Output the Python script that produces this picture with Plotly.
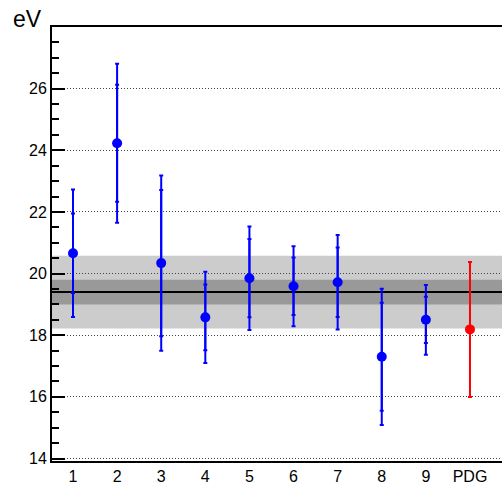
import plotly.graph_objects as go

# ---- data ----
positions = [1, 2, 3, 4, 5, 6, 7, 8, 9]
tick_vals = [1, 2, 3, 4, 5, 6, 7, 8, 9, 10]
tick_text = ["1", "2", "3", "4", "5", "6", "7", "8", "9", "PDG"]
y_tick_vals = [14, 16, 18, 20, 22, 24, 26]

values = [20.66, 24.23, 20.34, 18.58, 19.85, 19.59, 19.72, 17.30, 18.50]
err_stat = [1.29, 1.90, 2.37, 1.07, 1.27, 0.93, 1.13, 1.75, 0.75]
err_tot = [2.07, 2.58, 2.84, 1.48, 1.68, 1.30, 1.53, 2.21, 1.13]

pdg_pos = [10]
pdg_value = [18.19]
pdg_err = [2.19]

band_mean = 19.40
band_stat = 0.40
band_tot = 1.18

y_range = [13.92, 28.0]
x_range = [0.524, 10.726]

BLUE = "#0000ff"
RED = "#ff0000"
FONT = "Liberation Sans, Arial, Helvetica, sans-serif"

fig = go.Figure()

# total uncertainties
fig.add_trace(go.Scatter(
    x=positions, y=values, mode="markers",
    marker=dict(size=10, color=BLUE, opacity=0),
    error_y=dict(type="data", array=err_tot, arrayminus=err_tot,
                 color=BLUE, thickness=2, width=2),
    showlegend=False, hoverinfo="skip"))
# statistical uncertainties + points
fig.add_trace(go.Scatter(
    x=positions, y=values, mode="markers",
    marker=dict(size=10, color=BLUE),
    error_y=dict(type="data", array=err_stat, arrayminus=err_stat,
                 color=BLUE, thickness=2, width=2),
    showlegend=False))
# PDG
fig.add_trace(go.Scatter(
    x=pdg_pos, y=pdg_value, mode="markers",
    marker=dict(size=10, color=RED),
    error_y=dict(type="data", array=pdg_err, arrayminus=pdg_err,
                 color=RED, thickness=2, width=2),
    showlegend=False))

# average band
fig.add_shape(type="rect", xref="paper", yref="y", x0=0, x1=1,
              y0=band_mean - band_tot, y1=band_mean + band_tot,
              fillcolor="#cccccc", line=dict(width=0), layer="between")
fig.add_shape(type="rect", xref="paper", yref="y", x0=0, x1=1,
              y0=band_mean - band_stat, y1=band_mean + band_stat,
              fillcolor="#999999", line=dict(width=0), layer="between")
fig.add_shape(type="line", xref="paper", yref="y", x0=0, x1=1,
              y0=band_mean, y1=band_mean,
              line=dict(color="black", width=2), layer="between")

fig.add_annotation(text="eV", xref="paper", yref="paper",
                   x=-0.091, y=1.018, xanchor="left", yanchor="middle",
                   showarrow=False, font=dict(family=FONT, size=23, color="black"))

fig.update_layout(
    width=502, height=486,
    margin=dict(l=52, r=0, t=27, b=25),
    paper_bgcolor="white", plot_bgcolor="white",
    font=dict(family=FONT, size=16, color="black"),
    xaxis=dict(range=x_range, tickvals=tick_vals, ticktext=tick_text,
               showgrid=False, zeroline=False, ticks="", automargin=False,
               showline=True, linecolor="black", linewidth=2, mirror=True,
               ticklabelstandoff=0),
    yaxis=dict(range=y_range, tickvals=y_tick_vals, showgrid=True,
               gridcolor="#444444", griddash="1px,2px", gridwidth=1,
               zeroline=False, ticks="inside", ticklen=13, tickwidth=2,
               tickcolor="black", showline=True, linecolor="black",
               linewidth=2, automargin=False,
               minor=dict(dtick=0.5, tick0=0, ticks="inside", ticklen=7,
                          tickwidth=1.5, tickcolor="black", showgrid=False)),
)

fig.write_html("out.html", config={"displayModeBar": False},
               post_script="document.body.style.margin='0';document.body.style.overflow='hidden';")
